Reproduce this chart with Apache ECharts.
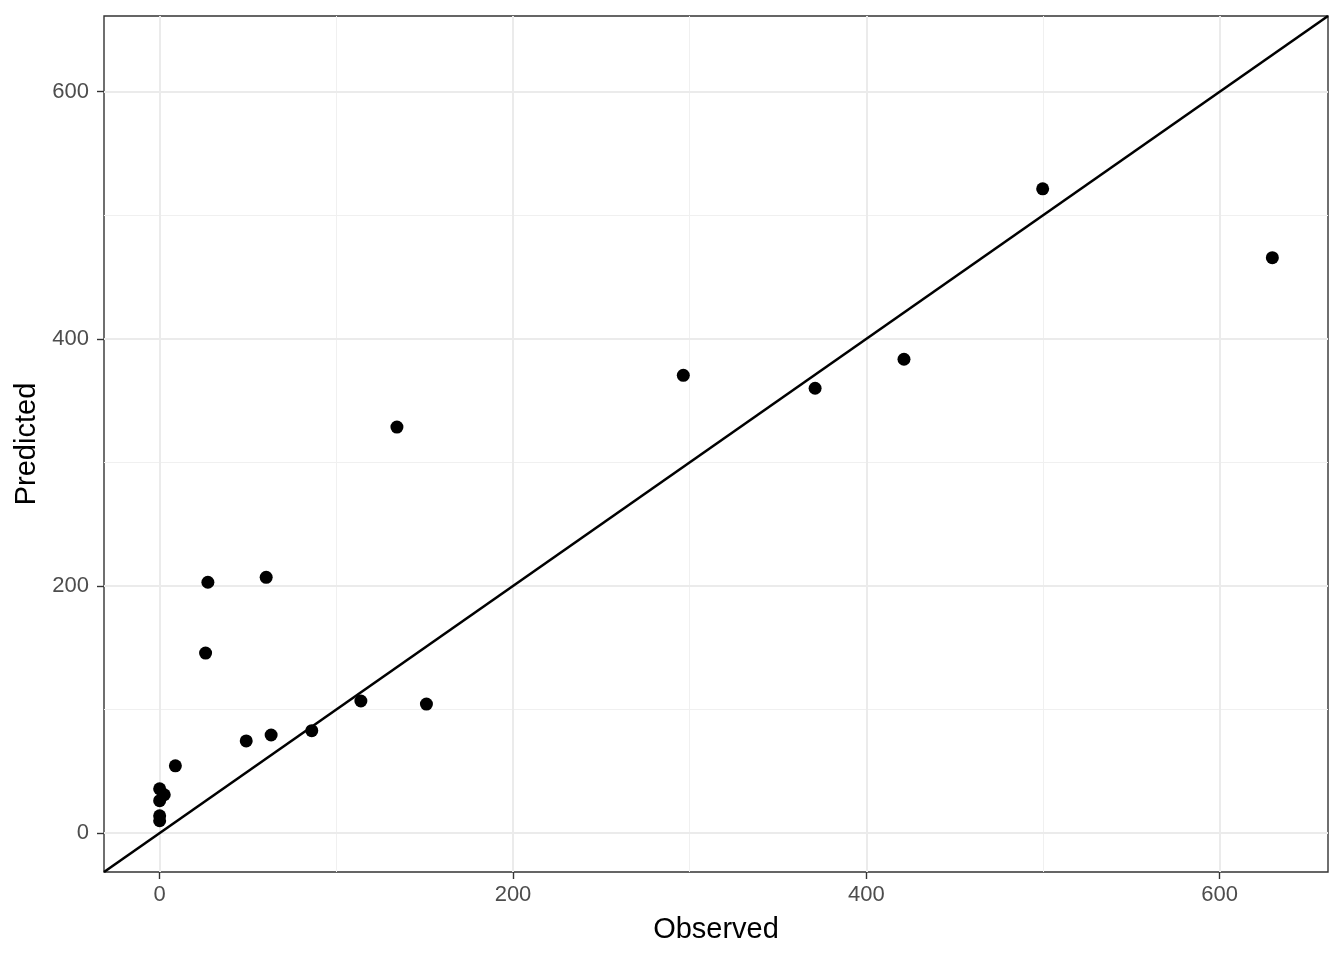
<!DOCTYPE html>
<html>
<head>
<meta charset="utf-8">
<script src="https://cdn.jsdelivr.net/npm/echarts@6/dist/echarts.min.js"></script>
<style>
html,body{margin:0;padding:0;background:#fff;}
#chart{width:1344px;height:960px;}
</style>
</head>
<body>
<div id="chart"></div>
<script>
// Data
const observed  = [629.8, 499.8, 421.3, 371.0, 296.4, 134.3, 151.0, 113.9, 86.1, 63.1, 49.0, 60.3, 27.3, 26.0, 8.9, 2.6, 0, 0, 0, 0];
const predicted = [465.7, 521.4, 383.5, 360.0, 370.5, 328.6, 104.4, 106.9, 82.9, 79.4, 74.6, 207.0, 203.0, 145.7, 54.4, 31.0, 35.8, 26.2, 14.0, 10.0];
const axisLimits = [-31.5, 661.3];
const majorTicks = [0, 200, 400, 600];
const minorTicks = [100, 300, 500];
const xTitle = 'Observed';
const yTitle = 'Predicted';

const points = observed.map((v, i) => [v, predicted[i]]);
const diag = [[axisLimits[0], axisLimits[0]], [axisLimits[1], axisLimits[1]]];

const font = 'Liberation Sans, Arial, Helvetica, sans-serif';

function vLines(vals) { return vals.map(v => ({ xAxis: v })); }
function hLines(vals) { return vals.map(v => ({ yAxis: v })); }

function gridSeries(vals, color, width) {
  return {
    type: 'scatter', data: [], z: 1, silent: true,
    markLine: {
      silent: true, symbol: ['none', 'none'], label: { show: false }, animation: false,
      emphasis: { disabled: true },
      lineStyle: { color: color, width: width, type: 'solid', opacity: 1 },
      data: vLines(vals).concat(hLines(vals))
    }
  };
}

const chart = echarts.init(document.getElementById('chart'), null, { renderer: 'canvas' });
chart.setOption({
  animation: false,
  backgroundColor: '#ffffff',
  grid: {
    left: 104, right: 16, top: 16, bottom: 88,
    show: true, borderColor: '#333333', borderWidth: 1.4, backgroundColor: '#ffffff'
  },
  xAxis: {
    type: 'value', min: axisLimits[0], max: axisLimits[1],
    name: xTitle, nameLocation: 'middle', nameGap: 43,
    nameTextStyle: { color: '#000', fontSize: 29, fontFamily: font },
    axisLine: { show: false, onZero: false },
    axisTick: { show: true, inside: false, length: 7, customValues: majorTicks, lineStyle: { color: '#333333', width: 1.4 } },
    axisLabel: { customValues: majorTicks, color: '#4D4D4D', fontSize: 22, fontFamily: font, margin: 12 },
    splitLine: { show: false }
  },
  yAxis: {
    type: 'value', min: axisLimits[0], max: axisLimits[1],
    name: yTitle, nameLocation: 'middle', nameGap: 63, nameRotate: 90,
    nameTextStyle: { color: '#000', fontSize: 29, fontFamily: font },
    axisLine: { show: false, onZero: false },
    axisTick: { show: true, inside: false, length: 7, customValues: majorTicks, lineStyle: { color: '#333333', width: 1.4 } },
    axisLabel: { customValues: majorTicks, color: '#4D4D4D', fontSize: 22, fontFamily: font, margin: 15 },
    splitLine: { show: false }
  },
  series: [
    gridSeries(minorTicks, '#F0F0F0', 1),
    gridSeries(majorTicks, '#EBEBEB', 2),
    {
      type: 'line', data: diag, showSymbol: false, z: 10, clip: true, silent: true,
      lineStyle: { color: '#000000', width: 2.6 }
    },
    {
      type: 'scatter', data: points, symbol: 'circle', symbolSize: 13, z: 11,
      itemStyle: { color: '#000000', opacity: 1 }
    }
  ]
});
</script>
</body>
</html>
